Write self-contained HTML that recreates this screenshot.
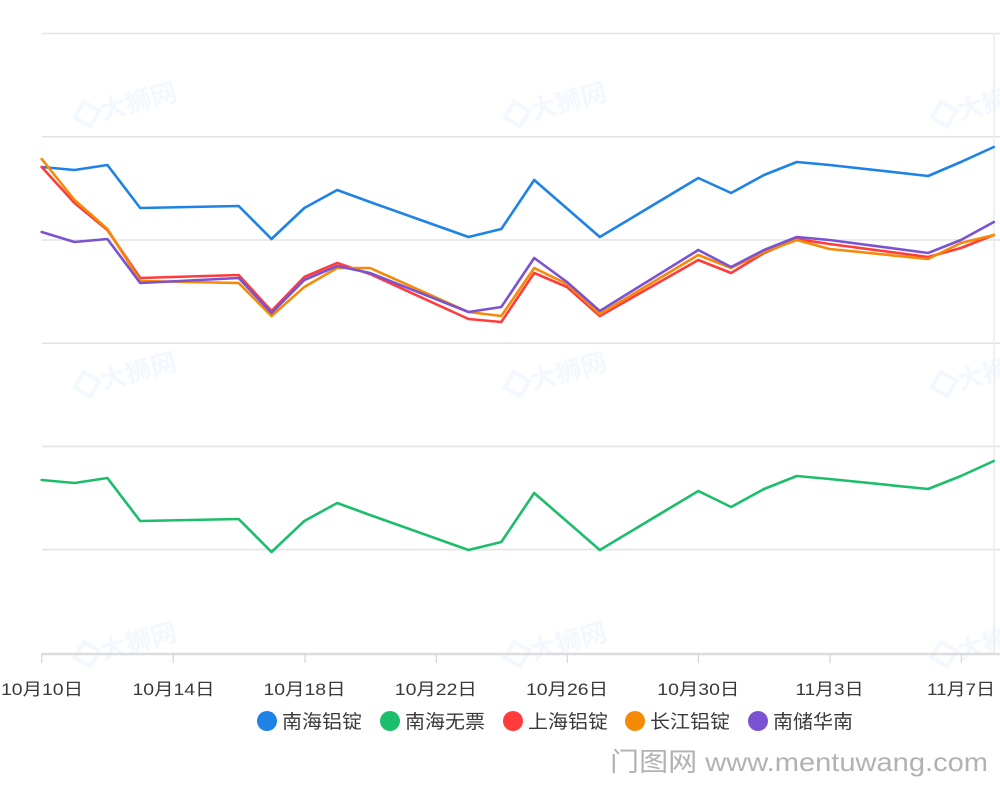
<!DOCTYPE html>
<html>
<head>
<meta charset="utf-8">
<style>
  html,body{margin:0;padding:0;background:#fff;}
  body{width:1000px;height:785px;overflow:hidden;}
  svg{display:block;}
  text{font-family:"Liberation Sans","Noto Sans CJK SC",sans-serif;}
</style>
</head>
<body>
<svg width="1000" height="785" viewBox="0 0 1000 785" xmlns="http://www.w3.org/2000/svg">
  <!-- watermarks -->
  <g fill="#1e82e6" opacity="0.055" font-size="26" font-weight="bold">
    <g transform="translate(125,105) rotate(-15)"><rect x="-48" y="-10" width="18" height="18" transform="rotate(45 -39 -1)" fill="none" stroke="#1e82e6" stroke-width="4"/><text x="-25" y="9">大狮网</text></g>
    <g transform="translate(555,105) rotate(-15)"><rect x="-48" y="-10" width="18" height="18" transform="rotate(45 -39 -1)" fill="none" stroke="#1e82e6" stroke-width="4"/><text x="-25" y="9">大狮网</text></g>
    <g transform="translate(982,105) rotate(-15)"><rect x="-48" y="-10" width="18" height="18" transform="rotate(45 -39 -1)" fill="none" stroke="#1e82e6" stroke-width="4"/><text x="-25" y="9">大狮网</text></g>
    <g transform="translate(125,375) rotate(-15)"><rect x="-48" y="-10" width="18" height="18" transform="rotate(45 -39 -1)" fill="none" stroke="#1e82e6" stroke-width="4"/><text x="-25" y="9">大狮网</text></g>
    <g transform="translate(555,375) rotate(-15)"><rect x="-48" y="-10" width="18" height="18" transform="rotate(45 -39 -1)" fill="none" stroke="#1e82e6" stroke-width="4"/><text x="-25" y="9">大狮网</text></g>
    <g transform="translate(982,375) rotate(-15)"><rect x="-48" y="-10" width="18" height="18" transform="rotate(45 -39 -1)" fill="none" stroke="#1e82e6" stroke-width="4"/><text x="-25" y="9">大狮网</text></g>
    <g transform="translate(125,645) rotate(-15)"><rect x="-48" y="-10" width="18" height="18" transform="rotate(45 -39 -1)" fill="none" stroke="#1e82e6" stroke-width="4"/><text x="-25" y="9">大狮网</text></g>
    <g transform="translate(555,645) rotate(-15)"><rect x="-48" y="-10" width="18" height="18" transform="rotate(45 -39 -1)" fill="none" stroke="#1e82e6" stroke-width="4"/><text x="-25" y="9">大狮网</text></g>
    <g transform="translate(982,645) rotate(-15)"><rect x="-48" y="-10" width="18" height="18" transform="rotate(45 -39 -1)" fill="none" stroke="#1e82e6" stroke-width="4"/><text x="-25" y="9">大狮网</text></g>
  </g>

  <!-- grid -->
  <g stroke="#e4e4e4" stroke-width="1.6">
    <line x1="42" y1="33.5" x2="1000" y2="33.5"/>
    <line x1="42" y1="136.8" x2="1000" y2="136.8"/>
    <line x1="42" y1="240" x2="1000" y2="240"/>
    <line x1="42" y1="343.2" x2="1000" y2="343.2"/>
    <line x1="42" y1="446.4" x2="1000" y2="446.4"/>
    <line x1="42" y1="549.6" x2="1000" y2="549.6"/>
  </g>
  <line x1="994" y1="33" x2="994" y2="653" stroke="#ececf0" stroke-width="1.5"/>
  <!-- x axis -->
  <line x1="41" y1="654" x2="1000" y2="654" stroke="#dcdcdc" stroke-width="2.5"/>
  <g stroke="#d6d6d6" stroke-width="1.2">
    <line x1="41.7" y1="654" x2="41.7" y2="663"/>
    <line x1="173.3" y1="654" x2="173.3" y2="663"/>
    <line x1="305" y1="654" x2="305" y2="663"/>
    <line x1="436.3" y1="654" x2="436.3" y2="663"/>
    <line x1="567.3" y1="654" x2="567.3" y2="663"/>
    <line x1="698.5" y1="654" x2="698.5" y2="663"/>
    <line x1="830" y1="654" x2="830" y2="663"/>
    <line x1="961.3" y1="654" x2="961.3" y2="663"/>
  </g>
  <g fill="#3a3a3a" font-size="17" text-anchor="middle">
    <text x="42" y="695" textLength="82" lengthAdjust="spacingAndGlyphs">10月10日</text>
    <text x="173.5" y="695" textLength="82" lengthAdjust="spacingAndGlyphs">10月14日</text>
    <text x="304.5" y="695" textLength="82" lengthAdjust="spacingAndGlyphs">10月18日</text>
    <text x="435.8" y="695" textLength="82" lengthAdjust="spacingAndGlyphs">10月22日</text>
    <text x="567" y="695" textLength="82" lengthAdjust="spacingAndGlyphs">10月26日</text>
    <text x="698.3" y="695" textLength="82" lengthAdjust="spacingAndGlyphs">10月30日</text>
    <text x="829.5" y="695" textLength="68" lengthAdjust="spacingAndGlyphs">11月3日</text>
    <text x="961" y="695" textLength="68" lengthAdjust="spacingAndGlyphs">11月7日</text>
  </g>

  <!-- series -->
  <g fill="none" stroke-width="2.6" stroke-linejoin="round" stroke-linecap="round">
    <polyline stroke="#1e82e6" points="41.7,167 74.5,170 107.4,165 140.2,208 238.7,206 271.5,239 304.3,208 337.2,190 370,202 468.5,237 501.3,229 534.2,180 599.8,237 698.3,178 731.1,193 764,175 796.8,162 829.6,165 928.1,176 960.9,162 993.8,147"/>
    <polyline stroke="#1cbe6b" points="41.7,480 74.5,483 107.4,478 140.2,521 238.7,519 271.5,552 304.3,521 337.2,503 370,515 468.5,550 501.3,542 534.2,493 599.8,550 698.3,491 731.1,507 764,489 796.8,476 829.6,479 928.1,489 960.9,476 993.8,461"/>
    <polyline stroke="#ff3b3b" points="41.7,167 74.5,203 107.4,230 140.2,278 238.7,275 271.5,311 304.3,277 337.2,263 370,274 468.5,319 501.3,322 534.2,273 567,287 599.8,316 698.3,260 731.1,273 764,253 796.8,239 829.6,244 928.1,257 960.9,248 993.8,235"/>
    <polyline stroke="#f58a07" points="41.7,159 74.5,200 107.4,229 140.2,281 238.7,283 271.5,316 304.3,287 337.2,268 370,268 468.5,312 501.3,316 534.2,268 567,284 599.8,314 698.3,255 731.1,268 764,252 796.8,240 829.6,249 928.1,259 960.9,243 993.8,235"/>
    <polyline stroke="#7a52d2" points="41.7,232 74.5,242 107.4,239 140.2,283 238.7,278 271.5,313 304.3,280 337.2,266 370,273 468.5,312 501.3,307 534.2,258 567,282 599.8,311 698.3,250 731.1,267 764,250 796.8,237 829.6,240 928.1,253 960.9,240 993.8,222"/>
  </g>

  <!-- legend -->
  <g font-size="19" fill="#3a3a3a">
    <circle cx="267" cy="721" r="10" fill="#1e82e6"/>
    <text x="282" y="728" textLength="80" lengthAdjust="spacingAndGlyphs">南海铝锭</text>
    <circle cx="390" cy="721" r="10" fill="#1cbe6b"/>
    <text x="405" y="728" textLength="80" lengthAdjust="spacingAndGlyphs">南海无票</text>
    <circle cx="513" cy="721" r="10" fill="#ff3b3b"/>
    <text x="528" y="728" textLength="80" lengthAdjust="spacingAndGlyphs">上海铝锭</text>
    <circle cx="635" cy="721" r="10" fill="#f58a07"/>
    <text x="650" y="728" textLength="80" lengthAdjust="spacingAndGlyphs">长江铝锭</text>
    <circle cx="758" cy="721" r="10" fill="#7a52d2"/>
    <text x="773" y="728" textLength="80" lengthAdjust="spacingAndGlyphs">南储华南</text>
  </g>

  <!-- bottom watermark -->
  <text x="610" y="771" font-size="26" fill="#b2b2b2" textLength="378" lengthAdjust="spacingAndGlyphs">门图网 www.mentuwang.com</text>
</svg>
</body>
</html>
